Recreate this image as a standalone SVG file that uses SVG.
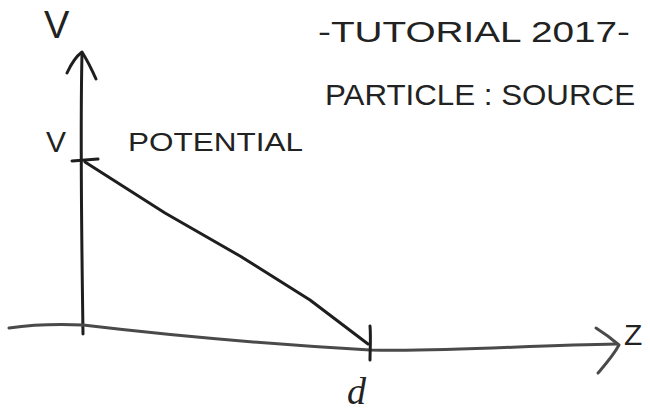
<svg xmlns="http://www.w3.org/2000/svg" width="650" height="415" viewBox="0 0 650 415">
<style>
.ink{fill:none;stroke:#1e1e1e;stroke-width:3;stroke-linecap:round;stroke-linejoin:round}
.gray{fill:none;stroke:#4a4a4a;stroke-width:3;stroke-linecap:round;stroke-linejoin:round}
.hand{font-family:"Liberation Sans","DejaVu Sans",sans-serif;fill:#222}
</style>
<rect width="650" height="415" fill="#ffffff"/>
<g id="v-axis">
<path class="ink" d="M83,334 C82,260 80,140 82,54"/>
<path class="ink" d="M67,73 C72,62 78,55 82,52 C87,60 92,70 96,79"/>
<path class="ink" d="M72,161 L98,159"/>
</g>
<g id="z-axis">
<path class="gray" d="M9,328 C30,325 60,324 83,325 C150,333 250,343 370,350 C450,352 530,345 617,344"/>
<path class="gray" d="M596,328 C604,333 612,339 619,345 C613,356 604,366 598,373"/>
<path class="ink" d="M370,326 C371,338 370,350 370,360"/>
</g>
<g id="potential-line">
<path class="ink" d="M85,162 L165,213 L240,256 L310,300 L368,344"/>
</g>
<g id="labels">
<text class="hand" x="44" y="38" font-size="38">V</text>
<text class="hand" x="46" y="152" font-size="30">V</text>
<text class="hand" x="128" y="151" font-size="26" textLength="175" lengthAdjust="spacingAndGlyphs">POTENTIAL</text>
<text class="hand" x="624" y="345" font-size="30">Z</text>
<text x="347" y="404" font-size="38" font-style="italic" font-family="Liberation Serif,serif" fill="#222">d</text>
<text class="hand" x="318" y="42" font-size="30" textLength="312" lengthAdjust="spacingAndGlyphs">-TUTORIAL 2017-</text>
<text class="hand" x="325" y="105" font-size="30" textLength="310" lengthAdjust="spacingAndGlyphs">PARTICLE : SOURCE</text>
</g>
</svg>
